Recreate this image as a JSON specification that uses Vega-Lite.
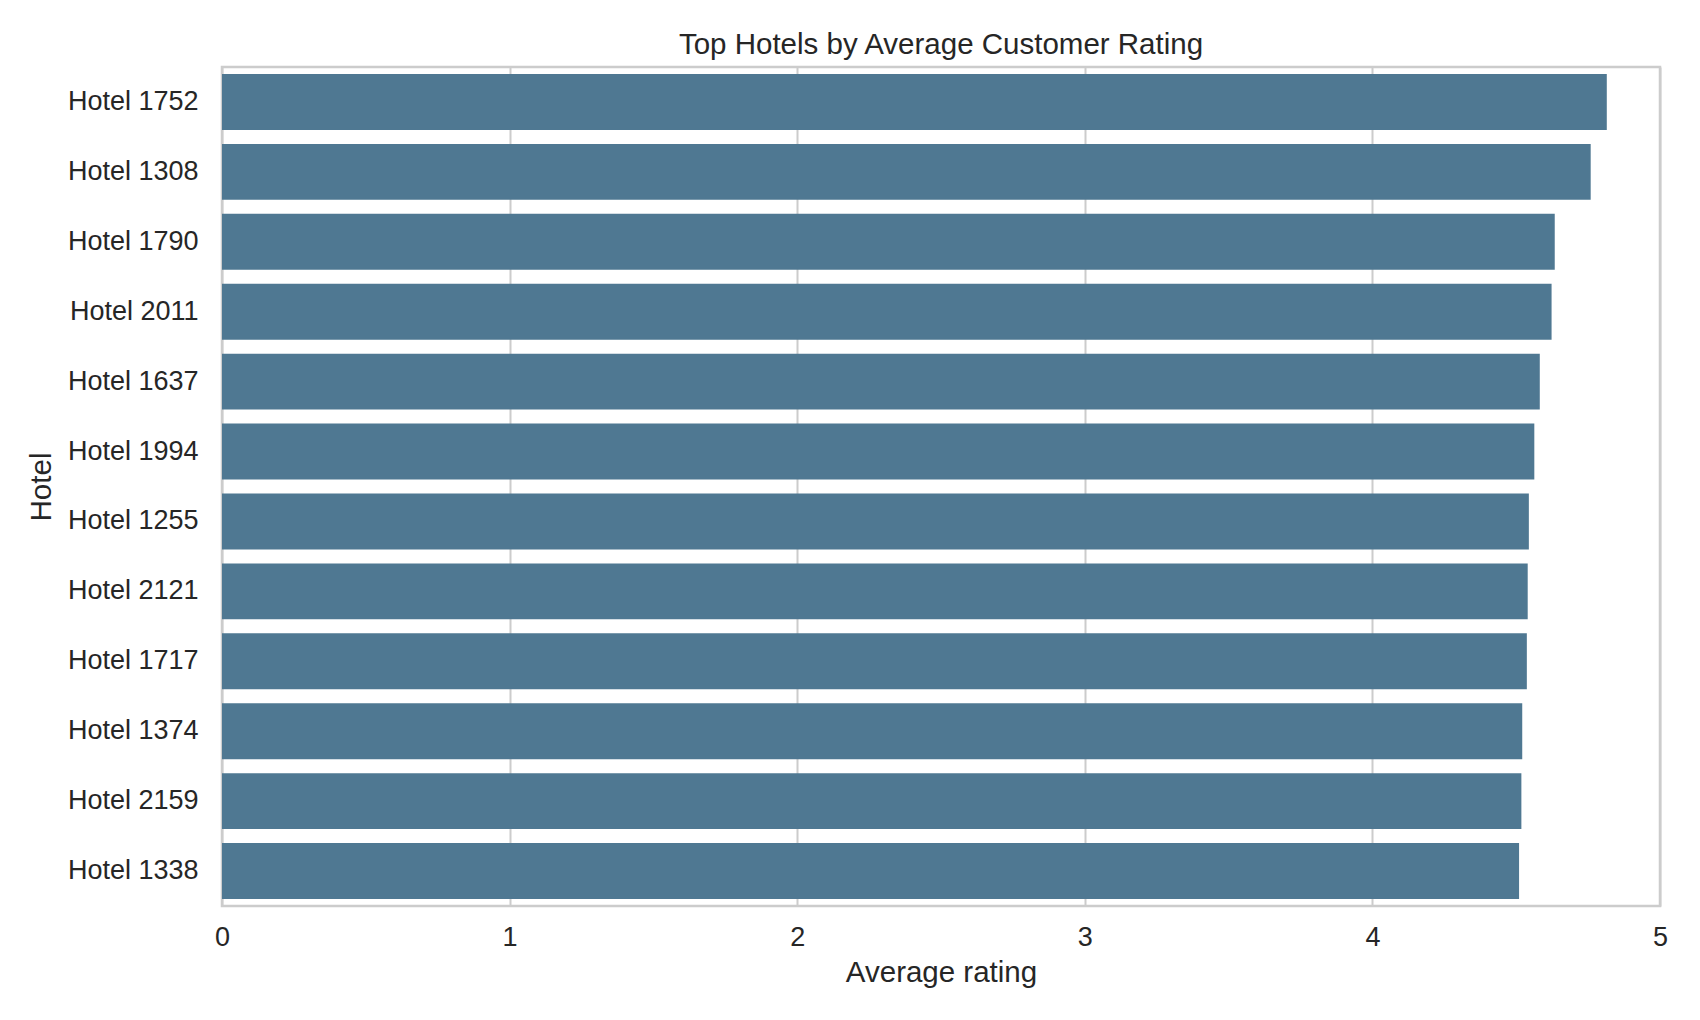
{
  "$schema": "https://vega.github.io/schema/vega-lite/v6.json",
  "autosize": "none",
  "width": 1438,
  "height": 839,
  "padding": {"left": 222, "top": 67, "right": 40, "bottom": 114},
  "background": "white",
  "title": {
    "text": "Top Hotels by Average Customer Rating",
    "font": "Liberation Sans",
    "fontSize": 29.5,
    "fontWeight": "normal",
    "color": "#262626",
    "baseline": "bottom",
    "offset": 7,
    "dy": 29,
    "anchor": "middle"
  },
  "data": {
    "values": [
      {"hotel": "Hotel 1752", "rating": 4.815},
      {"hotel": "Hotel 1308", "rating": 4.759},
      {"hotel": "Hotel 1790", "rating": 4.634},
      {"hotel": "Hotel 2011", "rating": 4.623},
      {"hotel": "Hotel 1637", "rating": 4.582},
      {"hotel": "Hotel 1994", "rating": 4.563},
      {"hotel": "Hotel 1255", "rating": 4.544},
      {"hotel": "Hotel 2121", "rating": 4.540},
      {"hotel": "Hotel 1717", "rating": 4.537},
      {"hotel": "Hotel 1374", "rating": 4.521},
      {"hotel": "Hotel 2159", "rating": 4.518},
      {"hotel": "Hotel 1338", "rating": 4.510}
    ]
  },
  "mark": {"type": "bar", "color": "#4f7892"},
  "encoding": {
    "y": {
      "field": "hotel",
      "type": "nominal",
      "sort": null,
      "title": "Hotel",
      "scale": {"paddingInner": 0.2, "paddingOuter": 0.1},
      "axis": {"grid": false, "ticks": false, "domain": false, "labelPadding": 24, "titlePadding": 11}
    },
    "x": {
      "field": "rating",
      "type": "quantitative",
      "title": "Average rating",
      "scale": {"domain": [0, 5], "nice": false},
      "axis": {"values": [0, 1, 2, 3, 4, 5], "format": "d", "grid": true, "ticks": false, "domain": false, "labelFlush": false, "labelPadding": 18, "titlePadding": 8}
    }
  },
  "config": {
    "view": {"stroke": "#cccccc", "strokeWidth": 2.5},
    "axis": {
      "labelFont": "Liberation Sans",
      "labelFontSize": 27,
      "labelColor": "#262626",
      "titleFont": "Liberation Sans",
      "titleFontSize": 29.5,
      "titleFontWeight": "normal",
      "titleColor": "#262626",
      "gridColor": "#cccccc",
      "gridWidth": 2,
      "tickSize": 0
    }
  }
}
